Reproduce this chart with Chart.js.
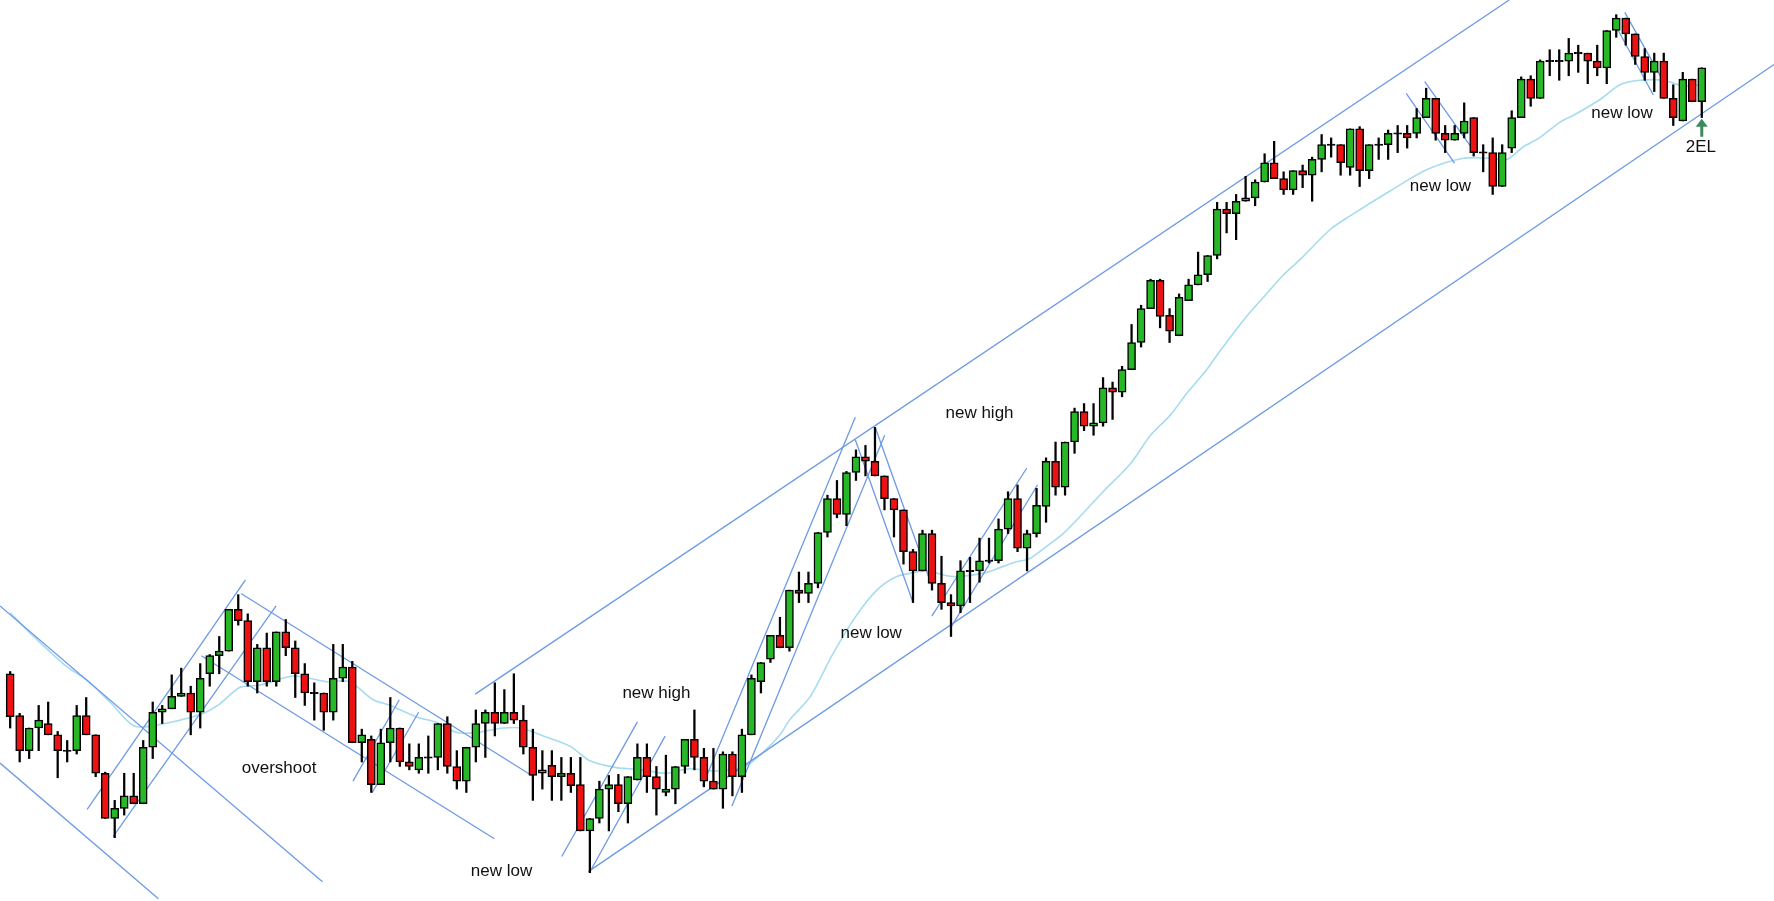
<!DOCTYPE html>
<html><head><meta charset="utf-8">
<script src="https://cdn.jsdelivr.net/npm/chart.js@4.4.1/dist/chart.umd.min.js"></script>
<style>html,body{margin:0;padding:0;background:#fff}#w{width:1774px;height:901px}</style>
</head><body><div id="w"><canvas id="c"></canvas></div>
<script>
// Level values are read on a reversed vertical scale (0 = top of chart)
const opens =[596,633,664,644,640,650,664,664,633,650,684,724,715,704,711,661,630,627,616,613,630,596,580,576,539,549,603,573,603,559,573,596,613,613,630,600,590,657,654,694,657,644,674,681,670,670,640,678,691,661,640,630,640,630,637,661,684,677,687,684,694,735,724,698,694,711,690,670,687,701,698,678,654,670,691,698,667,687,650,603,583,562,573,522,525,516,471,441,455,418,404,408,421,441,451,488,505,472,516,533,536,505,505,496,496,468,441,485,472,448,408,431,391,364,377,374,343,347,327,303,273,248,279,297,266,252,243,226,185,189,178,175,161,144,158,168,151,155,141,128,128,148,114,151,128,128,118,118,118,104,87,118,124,118,104,135,135,165,131,104,70,87,54,54,54,47,47,54,60,27,16,30,50,64,54,87,107,70,90];
const highs =[594,631,644,624,621,647,655,624,617,650,683,708,684,684,655,621,624,597,591,607,587,579,563,539,526,543,570,560,559,548,567,587,604,613,570,570,585,645,651,645,617,644,658,658,651,640,634,664,661,628,628,604,610,596,624,645,664,664,670,670,670,724,691,686,685,687,658,658,678,668,678,654,628,662,662,665,665,645,597,586,562,546,522,506,506,471,438,425,417,398,394,378,421,441,451,486,469,469,492,526,496,493,476,476,459,435,429,469,432,405,391,391,361,357,357,334,338,324,287,270,247,247,273,260,247,223,226,179,179,172,156,159,136,125,152,151,146,139,119,122,128,114,112,128,122,115,111,111,96,78,87,111,111,91,104,128,122,128,98,68,67,53,44,44,34,40,47,40,27,13,16,30,43,47,47,75,64,70,60];
const lows  =[644,674,671,664,650,688,674,667,650,687,724,741,721,711,711,671,640,627,616,650,644,607,596,576,553,607,613,607,607,580,617,624,637,646,637,603,657,674,701,694,674,678,681,684,684,681,684,698,701,674,670,651,640,640,667,708,698,708,708,701,735,772,728,735,718,728,690,701,721,704,711,684,681,696,698,715,704,701,650,613,586,573,576,533,533,520,475,458,465,425,421,421,451,475,499,533,505,522,539,563,542,533,515,498,498,472,488,505,475,462,438,438,401,381,385,377,371,351,327,307,273,290,303,297,266,252,249,229,206,212,178,182,161,158,172,172,166,178,152,139,155,155,165,158,141,141,135,131,122,104,124,135,124,122,138,152,172,165,135,104,94,87,67,71,67,64,74,67,74,33,40,57,71,81,87,111,107,90,104];
const closes=[634,664,644,637,650,664,664,633,650,684,724,715,704,711,661,630,627,616,613,630,600,580,576,539,549,603,573,603,559,573,596,613,613,630,600,590,657,650,694,657,644,674,678,670,670,640,678,691,661,640,630,640,630,637,661,686,681,687,684,695,735,724,698,694,711,687,670,687,698,698,678,654,670,691,698,667,687,650,600,586,562,573,522,525,516,471,441,455,418,404,408,421,441,451,488,505,472,516,533,536,505,505,496,496,468,441,485,472,447,408,431,391,364,377,374,343,347,327,303,273,248,280,293,263,252,243,226,185,189,178,175,161,144,158,168,151,155,141,128,128,144,114,151,128,128,118,118,122,104,87,118,124,118,107,135,135,165,135,104,70,87,54,54,54,47,47,54,60,27,16,30,50,64,54,87,104,70,90,60];
// moving average readings (bar position, level)
const maX=[0,2.1,6,8,10.5,13,15,20,22,24.2,26.3,29.8,33.3,35.7,38.2,40,42.7,44.9,47,49,51.9,53.7,56.1,58.9,61,63.8,66.6,69,71.5,74.3,77.1,79.3,81,82,84.2,86.6,89,91.2,93.3,95.4,96.4,99.2,102.4,104.5,105.9,107.3,109.1,110.8,112.9,115,117.9,120,122.1,123.8,125.9,127,129.8,132.3,134,135.8,138.9,141,145.2,149.1,152.9,155.7,157.5,159.2,160.9,163.1,164.5,167.3,169.4,171.5,174,176,178];
const maY=[542,560,590,601,621,642,642,632,623,608,606,598,603,603,619,624,634,639,648,648,644,644,651,660,673,679,681,684,680,682,679,665,650,637,616,578,545,522,510,506,505,510,507,501,497,494,483,472,454,435,410,385,367,348,327,314,283,259,243,229,203,191,169,150,140,140,141,130,122,108,102,88,75,71,71,76,75];
// trend lines: [x1,y1,x2,y2] in bar position / level
const trendLines=[[-1.07,536,32.86,780],[-1.07,675,15.6,795],[8.1,716,24.76,513],[10.83,740,27.98,536],[24.29,525,54.88,686],[20.12,580,50.95,742],[36.07,691,40.95,619],[38.1,701,42.98,630],[48.93,614,157.74,0],[60.83,771,185.6,57],[58.04,757.6,66.0,638.5],[60.95,772,68.92,651.2],[72.86,695,88.93,369],[75.95,713,92.02,385],[88.93,389,95.0,533],[91.07,379,97.02,519],[96.98,545,106.98,414],[99.05,554,108.1,429],[146.9,82.5,151.98,144.4],[148.85,72.2,154.05,134],[168.9,22.1,172.9,84],[169.9,10.9,173.98,72.2]];
const labels=[["overshoot",28.3,680],["new low",51.7,771],["new high",68,613],["new low",90.6,560],["new high",102,366],["new low",150.5,165],["new low",169.6,100],["2EL",177.9,130]];
const arrowBar=178, arrowTop=106, arrowBottom=121;

const idx=opens.map((_,i)=>i);
const wick=idx.map(i=>({x:i,y:[lows[i],highs[i]]}));
const body=idx.map(i=>{const o=opens[i],c=closes[i];return {x:i,y:o===c?[o-0.6,o+0.6]:[o,c]};});
const bodyCol=idx.map(i=>opens[i]===closes[i]?'#000':(closes[i]<opens[i]?'#27b827':'#ee1111'));
const ds=[
 {type:'bar',data:body,backgroundColor:bodyCol,borderColor:'#000',borderWidth:1.5,borderSkipped:false,barThickness:8,grouped:false,order:0},
 {type:'bar',data:wick,backgroundColor:'#000',borderWidth:0,barThickness:1.6,grouped:false,order:1},
 {type:'line',data:maX.map((x,i)=>({x:x,y:maY[i]})),borderColor:'#a6dbf0',borderWidth:1.6,pointRadius:0,tension:0.3,order:3}
];
trendLines.forEach(t=>ds.push({type:'line',data:[{x:t[0],y:t[1]},{x:t[2],y:t[3]}],borderColor:'#6d9ae6',borderWidth:1.3,pointRadius:0,order:2}));
const textPlugin={id:'txt',afterDatasetsDraw(ch){const c=ch.ctx,xs=ch.scales.x,ys=ch.scales.y;c.save();c.fillStyle='#111';c.font='17px "Liberation Sans", Arial, sans-serif';c.textAlign='center';c.textBaseline='middle';
 labels.forEach(l=>c.fillText(l[0],xs.getPixelForValue(l[1]),ys.getPixelForValue(l[2])));
 const ax=xs.getPixelForValue(arrowBar),t=ys.getPixelForValue(arrowTop),b=ys.getPixelForValue(arrowBottom);
 c.strokeStyle='#3b8a5e';c.fillStyle='#3b8a5e';c.lineWidth=3;c.beginPath();c.moveTo(ax,b);c.lineTo(ax,t+5);c.stroke();
 c.beginPath();c.moveTo(ax-6,t+7);c.lineTo(ax+6,t+7);c.lineTo(ax,t-1);c.closePath();c.fill();c.restore();}};
new Chart(document.getElementById('c'),{data:{datasets:ds},plugins:[textPlugin],
 options:{responsive:true,maintainAspectRatio:false,animation:false,layout:{padding:0},
 plugins:{legend:{display:false},tooltip:{enabled:false}},
 scales:{x:{type:'linear',min:-1.07,max:185.6,offset:false,bounds:'data',display:false},y:{type:'linear',min:0,max:797,reverse:true,display:false}}}});
</script></body></html>
